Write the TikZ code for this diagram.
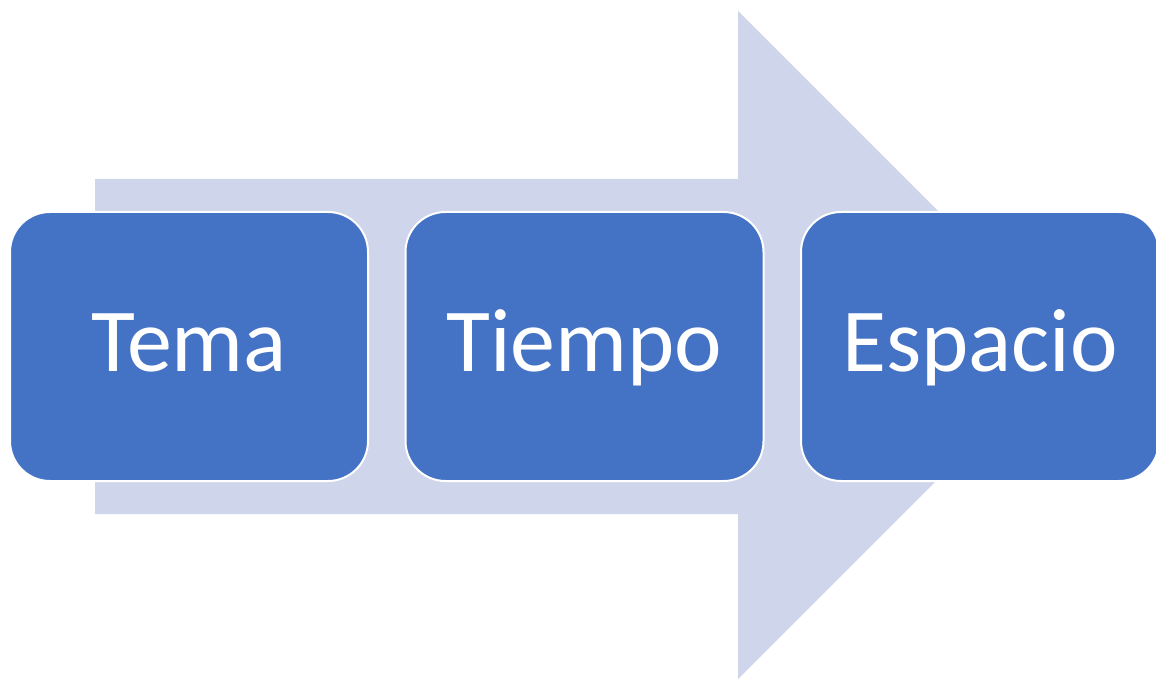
\documentclass[tikz,border=0pt]{standalone}
\usepackage{fontspec}
\setmainfont{Carlito}
\usepackage{xcolor}
\definecolor{BoxBlue}{RGB}{68,114,196}
\definecolor{ArrowLt}{RGB}{207,213,234}

\begin{document}
\begin{tikzpicture}[x=1pt, y=-1pt,
  stage/.style={draw=white, fill=BoxBlue, line width=2pt, rounded corners=40pt,
                minimum width=358pt, minimum height=269pt,
                text=white, font=\fontsize{90}{100}\selectfont,
                text height=64pt, text depth=14pt}
]
\useasboundingbox (0,0) rectangle (1156,679);

% Big background arrow
\fill[ArrowLt] (95,179) -- (738,179) -- (738,11) -- (1072,345)
  -- (738,679) -- (738,514) -- (95,514) -- cycle;

% Stages
\foreach \nm/\x/\lbl in {tema/189/Tema, tiempo/584.5/Tiempo, espacio/980/Espacio}
  { \node[stage] (\nm) at (\x,346.5) {\lbl}; }
\end{tikzpicture}
\end{document}
